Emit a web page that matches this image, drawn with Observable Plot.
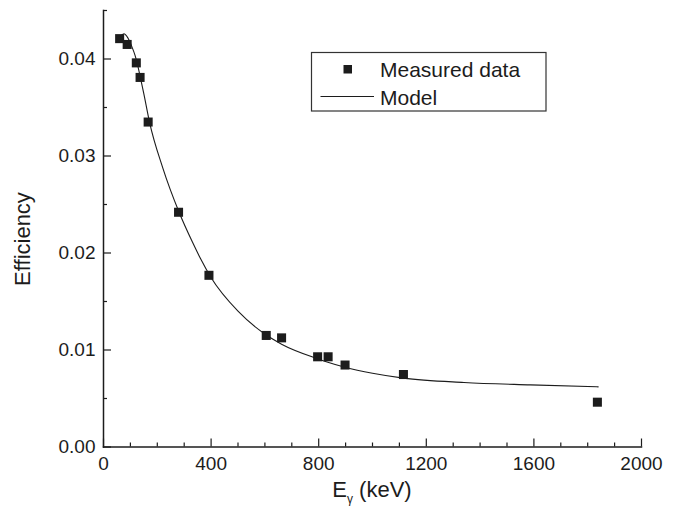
<!DOCTYPE html>
<html><head><meta charset="utf-8">
<script src="https://cdn.jsdelivr.net/npm/d3@7"></script>
<script src="https://cdn.jsdelivr.net/npm/@observablehq/plot@0.6"></script>
<style>
body{margin:0;background:#fff;}
#wrap{position:relative;width:675px;height:510px;}
</style></head><body><div id="wrap"></div>
<script>
// Measured data
const energy = [60, 88, 122, 136, 166, 279, 392, 605, 662, 796, 835, 898, 1115, 1836];
const efficiency = [0.0421, 0.0415, 0.0396, 0.0381, 0.0335, 0.0242, 0.0177, 0.0115, 0.01125, 0.0093, 0.0093, 0.00845, 0.00747, 0.00462];
// Model curve
const modelEnergy = [62, 76, 90, 105, 117, 124, 137, 150, 171, 220, 281, 331, 361, 399, 500, 597, 662, 796, 834, 898, 1000, 1115, 1340, 1587, 1839];
const modelEfficiency = [0.0423, 0.0426, 0.0422, 0.0413, 0.0404, 0.0397, 0.0381, 0.0364, 0.0335, 0.0288, 0.0242, 0.0211, 0.0194, 0.0175, 0.0140, 0.0117, 0.0106, 0.0091, 0.00874, 0.00822, 0.0076, 0.0071, 0.00665, 0.0064, 0.0062];
// Ticks
const xMajorTicks = [0, 400, 800, 1200, 1600, 2000];
const xMinorTicks = [100, 200, 300, 500, 600, 700, 900, 1000, 1100, 1300, 1400, 1500, 1700, 1800, 1900];
const yMajorTicks = [0, 0.01, 0.02, 0.03, 0.04];
const yMinorTicks = [0.005, 0.015, 0.025, 0.035, 0.045];
const legendLabels = ["Measured data", "Model"];

const measured = energy.map((e, i) => ({energy: e, efficiency: efficiency[i]}));
const model = modelEnergy.map((e, i) => ({energy: e, efficiency: modelEfficiency[i]}));

const ink = "#1c1c1c";
const chart = Plot.plot({
  width: 675, height: 510,
  marginLeft: 103, marginRight: 34, marginTop: 10, marginBottom: 63.5,
  x: {domain: [0, 2000]},
  y: {domain: [0, 0.045]},
  style: {fontFamily: "'Liberation Sans', Arial, sans-serif", fontSize: "19px", color: ink, background: "white", overflow: "visible"},
  marks: [
    Plot.axisX(xMinorTicks, {tickSize: -4, tickFormat: () => "", label: null, strokeWidth: 1.2}),
    Plot.axisX(xMajorTicks, {tickSize: -8, tickPadding: 17, label: null, strokeWidth: 1.2, tickFormat: d3.format("d")}),
    Plot.axisY(yMinorTicks, {tickSize: -4, tickFormat: () => "", label: null, strokeWidth: 1.2}),
    Plot.axisY(yMajorTicks, {tickSize: -8, tickPadding: 16, label: null, strokeWidth: 1.2, tickFormat: d3.format(".2f")}),
    Plot.frame({anchor: "left", stroke: ink, strokeWidth: 1.5}),
    Plot.frame({anchor: "bottom", stroke: ink, strokeWidth: 1.5}),
    Plot.line(model, {x: "energy", y: "efficiency", stroke: ink, strokeWidth: 1.1, curve: "monotone-x"}),
    Plot.dot(measured, {x: "energy", y: "efficiency", symbol: "square", r: 5.1, fill: ink, stroke: "none"})
  ]
});
document.getElementById("wrap").appendChild(chart);

const svg = d3.select(chart);
const ff = "'Liberation Sans', Arial, sans-serif";
svg.append("text")
  .attr("transform", "translate(30,239) rotate(-90)")
  .attr("text-anchor", "middle")
  .attr("font-family", ff).attr("font-size", 22).attr("fill", ink)
  .text("Efficiency");
const xl = svg.append("text")
  .attr("x", 372).attr("y", 497)
  .attr("text-anchor", "middle")
  .attr("font-family", ff).attr("font-size", 22).attr("fill", ink);
xl.append("tspan").text("E");
xl.append("tspan").attr("font-size", 12).attr("dy", 6).text("γ");
xl.append("tspan").attr("dy", -6).text(" (keV)");

// Legend
const lg = svg.append("g").attr("text-anchor", "start");
lg.append("rect").attr("x", 311.5).attr("y", 52.5).attr("width", 234.5).attr("height", 58.5)
  .attr("fill", "white").attr("stroke", "#333").attr("stroke-width", 1.2);
lg.append("rect").attr("x", 343.5).attr("y", 65).attr("width", 8.5).attr("height", 8.5).attr("fill", ink);
lg.append("text").attr("x", 380).attr("y", 77).attr("font-family", ff).attr("font-size", 21).attr("fill", ink).text(legendLabels[0]);
lg.append("line").attr("x1", 320.5).attr("x2", 374).attr("y1", 96.5).attr("y2", 96.5).attr("stroke", ink).attr("stroke-width", 1.1);
lg.append("text").attr("x", 380).attr("y", 105).attr("font-family", ff).attr("font-size", 21).attr("fill", ink).text(legendLabels[1]);
</script>
</body></html>
